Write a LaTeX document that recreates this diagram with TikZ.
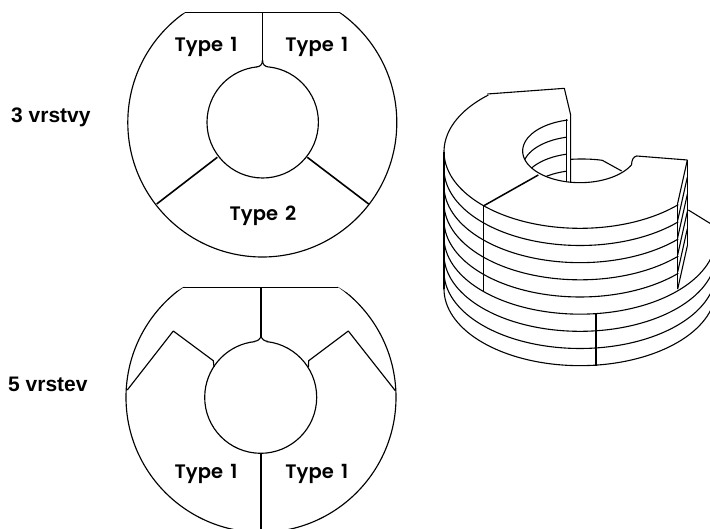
\documentclass[tikz,border=0pt]{standalone}
\usepackage{fontspec}
\setmainfont{Liberation Sans}
\newfontfamily\typefont[WordSpace=1.5,LetterSpace=0.5]{Poppins SemiBold}
\tikzset{
  thinline/.style={line width=1.15pt,black,line join=round},
  thickline/.style={line width=1.6pt,black,line join=round},
  wireline/.style={line width=1.1pt,black,line join=round},
  cutline/.style={line width=1.5pt,black,line join=round},
  typelabel/.style={font=\typefont\fontsize{19.5}{24}\selectfont,inner sep=0pt,anchor=base},
  sidelabel/.style={font=\bfseries\fontsize{21}{25}\selectfont,inner sep=0pt,anchor=base west},
}
\begin{document}
\begin{tikzpicture}[x=1pt,y=-1pt]
\useasboundingbox (0,0) rectangle (710,529);
\clip (0,0) rectangle (710,529);

% --- upper disc
\begin{scope}
\clip (185,12.3) -- (340,12.3) -- (420,60) -- (420,280) -- (100,280) -- (100,60) -- cycle;
\draw[thinline] (262.3,122.5) circle [radius=134.5];
\end{scope}
\draw[thinline] (185,12.5) -- (340,12.5);
\draw[thickline] (262.5,12.5) -- (262.5,60);
\draw[thinline] (262.5,60) .. controls (262.5,65) and (260,66.5) .. (256.5,67);
\draw[thinline] (262.5,60) .. controls (262.5,65) and (265,66.5) .. (268.5,67);
\draw[thinline] (262.7,122.3) ++(276:55.7) arc [start angle=276,end angle=624,radius=55.7];
\draw[thickline] (217.3,157.3) -- (156.7,204);
\draw[thickline] (307.3,157.3) -- (368.7,204);
\node[typelabel] (tA) at (206,51.7) {Type 1};
\node[typelabel] (tB) at (316.7,51.7) {Type 1};
\node[typelabel] (tC) at (263,220.7) {Type 2};

% --- lower disc
\begin{scope}
\clip (183.3,287) -- (338.3,287) -- (420,340) -- (420,540) -- (100,540) -- (100,340) -- cycle;
\draw[thinline] (261,397.3) circle [radius=135];
\end{scope}
\draw[thinline] (183.3,287.5) -- (338.3,287.5);
\draw[thickline] (261,287) -- (261,337);
\draw[thinline] (261,337) .. controls (260,339) and (258,341) .. (254,341.5);
\draw[thinline] (261,337) .. controls (262,339) and (264,341) .. (268,341.5);
\draw[thinline] (260.7,397.3) ++(276:56) arc [start angle=276,end angle=624,radius=56];
\draw[thickline] (261,453.3) -- (261,529);
\draw[thinline] (127.3,390) -- (173.3,331) -- (213.3,360.7) -- (214,367);
\draw[thinline] (395.3,390.7) -- (348.3,331) -- (308.7,360.7) -- (308.4,367);
\node[typelabel] (tD) at (206,478) {Type 1};
\node[typelabel] (tE) at (316.7,478) {Type 1};

\node[sidelabel] (lA) at (11,123) {3 vrstvy};
\node[sidelabel] (lB) at (8,391.7) {5 vrstev};

% --- stack, in 3x zoom units of the region from (430,80)
\begin{scope}[xshift=430pt,yshift=-80pt,x=.33333pt,y=-.33333pt]
  \def\cx{450}\def\cy{215}\def\ra{408}\def\rb{230}\def\dz{51.5}
  \draw[wireline] plot[smooth,domain=227.6:43.7,samples=60] ({\cx+\ra*cos(\x)},{\cy+\rb*sin(\x)});
  \draw[wireline] (172,42) -- (403,25) -- (422,105) -- (422,308);
  \draw[wireline] (42,215) -- (42,627);
  \foreach \k in {1,2,3,4}{
    \draw[wireline] plot[smooth,domain=180:43.7,samples=60] ({\cx+\ra*cos(\x)},{\cy+\k*\dz+\rb*sin(\x)});
  }
  \foreach \k in {5,6,7,8}{
    \draw[wireline] plot[smooth,domain=180:0,samples=70] ({\cx+\ra*cos(\x)},{\cy+\k*\dz+\rb*sin(\x)});
  }
  \draw[wireline] plot[smooth,domain=257.7:26,samples=70] ({\cx+172*cos(\x)},{213+95*sin(\x)})
     .. controls (605,240) and (610,230) .. (620,228) -- (772,240);
  \draw[wireline] (410,118) -- (410,306);
  \begin{scope}
    \clip (278,100) rectangle (410,320);
    \clip (\cx,213) ellipse [x radius=172,y radius=95];
    \foreach \k in {1,2,3}{
      \draw[wireline] plot[smooth,domain=180:270,samples=30] ({\cx+172*cos(\x)},{213+\k*51+95*sin(\x)});
    }
  \end{scope}
  \draw[wireline] (422,238) .. controls (455,236) and (490,237) .. (517,241) -- (575,273);
  \draw[cutline] (160,378) -- (325,285);
  \draw[cutline] (160.4,378) -- (160.4,635);
  \draw[cutline] (498,703) -- (498,857);
  \draw[wireline] (772,240) -- (772,497);
  \draw[wireline] (743,370) -- (743,628);
  \foreach \k in {0,...,5}{
    \draw[wireline] (743,370+\k*51.5) -- (772,240+\k*51.5);
  }
  \draw[wireline] (775,390) -- (840,430);
\end{scope}
\end{tikzpicture}
\end{document}
